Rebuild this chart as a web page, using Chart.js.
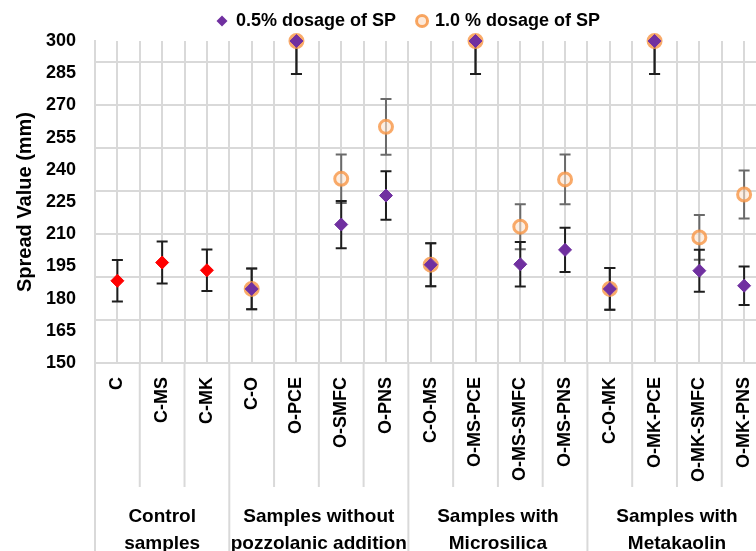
<!DOCTYPE html>
<html>
<head>
<meta charset="utf-8">
<script src="https://cdn.jsdelivr.net/npm/chart.js@4/dist/chart.umd.min.js"></script>
<style>
  html, body { margin: 0; padding: 0; background: #fff; overflow: hidden; }
  #wrap { width: 776px; height: 551px; }
</style>
</head>
<body>
<div id="wrap"><canvas id="chart" width="776" height="551"></canvas></div>
<script>
const categories = ['C', 'C-MS', 'C-MK', 'C-O', 'O-PCE', 'O-SMFC', 'O-PNS', 'C-O-MS', 'O-MS-PCE',
  'O-MS-SMFC', 'O-MS-PNS', 'C-O-MK', 'O-MK-PCE', 'O-MK-SMFC', 'O-MK-PNS'];

// 0.5% dosage of SP (first three are the control samples, drawn red)
const dose05 = [188.3, 196.8, 193.2, 184.5, 300, 214.5, 228, 195.8, 300, 196, 202.7, 184.5, 300, 193, 186];
const err05 = [9.7, 9.8, 9.7, 9.5, 15.4, 11, 11.3, 10, 15.4, 10.4, 10.3, 9.7, 15.4, 9.8, 9];

// 1.0 % dosage of SP
const dose10 = [null, null, null, 184.5, 300, 235.8, 260, 195.8, 300, 213.5, 235.5, 184.5, 300, 208.5, 228.5];
const err10 = [null, null, null, 9.5, 15.4, 11.3, 13, 10, 15.4, 10.5, 11.6, 9.7, 15.4, 10.4, 11.2];

const groupNames = [['Control', 'samples'], ['Samples without', 'pozzolanic addition'],
  ['Samples with', 'Microsilica'], ['Samples with', 'Metakaolin']];
const groupSizes = [3, 4, 4, 4];

const yTickLabels = [150, 165, 180, 195, 210, 225, 240, 255, 270, 285, 300];
const yGridLines = [150, 170, 190, 210, 230, 250, 270, 290];

const FONT = "'Liberation Sans', Arial, sans-serif";
Chart.defaults.font.family = FONT;
Chart.defaults.color = '#000';

const purple = '#7030A0';
const red = '#FF0000';
const gridColor = '#d9d9d9';

// error bars, drawn under the markers
const errorBars = {
  id: 'errorBars',
  beforeDatasetsDraw(chart) {
    const { ctx, chartArea, scales: { x, y } } = chart;
    const sets = [
      { vals: dose10, errs: err10, color: '#6a6a6a' },
      { vals: dose05, errs: err05, color: '#1e1e1e' }
    ];
    ctx.save();
    ctx.lineWidth = 2;
    sets.forEach(s => {
      ctx.strokeStyle = s.color;
      s.vals.forEach((v, i) => {
        if (v == null) return;
        const px = x.getPixelForValue(i);
        const top = Math.max(y.getPixelForValue(v + s.errs[i]), chartArea.top);
        const bot = y.getPixelForValue(v - s.errs[i]);
        ctx.beginPath();
        ctx.moveTo(px, top);
        ctx.lineTo(px, bot);
        ctx.moveTo(px - 5.5, bot);
        ctx.lineTo(px + 5.5, bot);
        if (top > chartArea.top) {
          ctx.moveTo(px - 5.5, top);
          ctx.lineTo(px + 5.5, top);
        }
        ctx.stroke();
      });
    });
    ctx.restore();
  }
};

// category separators and group labels under the axis
const groupAxis = {
  id: 'groupAxis',
  afterDraw(chart) {
    const { ctx, chartArea, scales: { x } } = chart;
    const bottom = chart.height;
    const groupEdges = [-0.5];
    groupSizes.reduce((acc, n) => { groupEdges.push(acc + n - 0.5); return acc + n; }, 0);
    ctx.save();
    ctx.strokeStyle = gridColor;
    ctx.lineWidth = 2;
    for (let k = 0; k <= categories.length; k++) {
      const v = k - 0.5;
      const px = x.getPixelForValue(v);
      ctx.beginPath();
      ctx.moveTo(px, chartArea.bottom);
      ctx.lineTo(px, groupEdges.includes(v) ? bottom : chartArea.bottom + 124);
      ctx.stroke();
    }
    ctx.fillStyle = '#000';
    ctx.font = 'bold 19px ' + FONT;
    ctx.textAlign = 'center';
    ctx.textBaseline = 'middle';
    groupNames.forEach((lines, g) => {
      const cx = (x.getPixelForValue(groupEdges[g]) + x.getPixelForValue(groupEdges[g + 1])) / 2;
      lines.forEach((t, j) => ctx.fillText(t, cx, chartArea.bottom + 154 + j * 27));
    });
    ctx.restore();
  }
};

// legend row at the top
const legendRow = {
  id: 'legendRow',
  afterDraw(chart) {
    const { ctx } = chart;
    const items = chart.data.datasets.map(d => d.label);
    ctx.save();
    ctx.font = 'bold 18px ' + FONT;
    ctx.textBaseline = 'middle';
    let xPos = 214;
    const yPos = 21;
    items.forEach((label, i) => {
      if (i === 0) {
        ctx.fillStyle = purple;
        ctx.beginPath();
        ctx.moveTo(xPos + 8, yPos - 5.5);
        ctx.lineTo(xPos + 13.5, yPos);
        ctx.lineTo(xPos + 8, yPos + 5.5);
        ctx.lineTo(xPos + 2.5, yPos);
        ctx.closePath();
        ctx.fill();
      } else {
        ctx.fillStyle = 'rgba(252,228,208,0.8)';
        ctx.strokeStyle = 'rgba(247,150,70,0.85)';
        ctx.lineWidth = 3;
        ctx.beginPath();
        ctx.arc(xPos + 6, yPos, 5.5, 0, Math.PI * 2);
        ctx.fill();
        ctx.stroke();
      }
      ctx.fillStyle = '#000';
      const tx = xPos + (i === 0 ? 22 : 19);
      ctx.fillText(label, tx, yPos);
      xPos = tx + ctx.measureText(label).width + 20;
    });
    ctx.restore();
  }
};

new Chart(document.getElementById('chart'), {
  type: 'scatter',
  data: {
    datasets: [
      {
        label: '0.5% dosage of SP',
        data: dose05.map((v, i) => ({ x: i, y: v })),
        pointStyle: 'rectRot',
        pointRadius: 6.5,
        pointBackgroundColor: dose05.map((v, i) => i < 3 ? red : purple),
        pointBorderColor: dose05.map((v, i) => i < 3 ? red : purple),
        pointBorderWidth: 1,
        clip: false,
        order: 0
      },
      {
        label: '1.0 % dosage of SP',
        data: dose10.map((v, i) => ({ x: i, y: v })),
        pointStyle: 'circle',
        pointRadius: 6.5,
        pointBackgroundColor: 'rgba(252,228,208,0.6)',
        pointBorderColor: 'rgba(247,150,70,0.8)',
        pointBorderWidth: 3,
        clip: false,
        order: 1
      }
    ]
  },
  options: {
    responsive: false,
    animation: false,
    events: [],
    layout: { padding: { top: 41, right: 3.5, left: 0, bottom: 0 } },
    plugins: {
      legend: { display: false },
      tooltip: { enabled: false }
    },
    scales: {
      x: {
        type: 'linear',
        min: -0.5,
        max: categories.length - 0.5,
        afterFit: scale => {
          scale.height = 188;
          scale.paddingLeft = 0;
          scale.paddingRight = 0;
        },
        grid: { color: gridColor, lineWidth: 2, drawTicks: false },
        border: { color: gridColor, width: 2 },
        ticks: {
          stepSize: 0.5,
          autoSkip: false,
          maxRotation: 90,
          minRotation: 90,
          padding: 14,
          font: { size: 18, weight: 'bold' },
          callback: v => Number.isInteger(v) ? categories[v] : ''
        }
      },
      y: {
        min: 150,
        max: 300,
        afterFit: scale => { scale.width = 95; },
        grid: {
          color: c => yGridLines.includes(c.tick.value) ? gridColor : 'rgba(0,0,0,0)',
          lineWidth: 2,
          drawTicks: false
        },
        border: { color: gridColor, width: 2 },
        title: {
          display: true,
          text: 'Spread Value (mm)',
          font: { size: 20, weight: 'bold' },
          padding: { top: 13, bottom: 0 }
        },
        ticks: {
          stepSize: 5,
          autoSkip: false,
          padding: 19,
          font: { size: 18, weight: 'bold' },
          callback: v => yTickLabels.includes(v) ? v : ''
        }
      }
    }
  },
  plugins: [errorBars, groupAxis, legendRow]
});
</script>
</body>
</html>
